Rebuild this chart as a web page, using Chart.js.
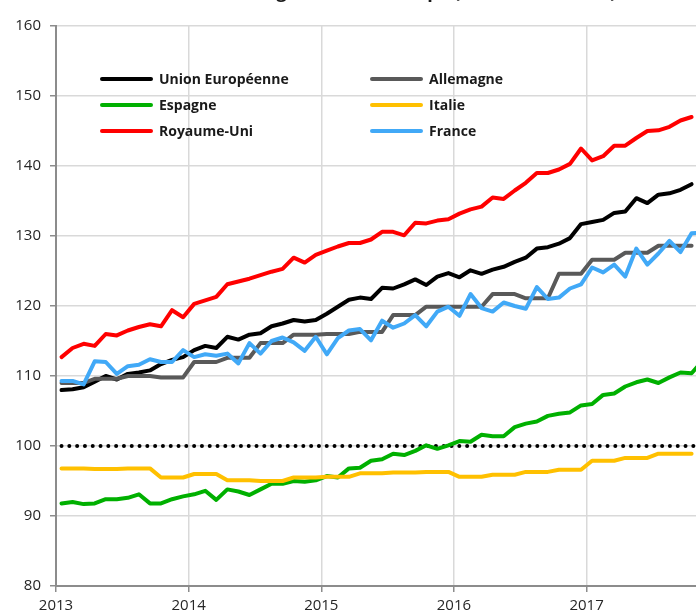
<!DOCTYPE html>
<html>
<head>
<meta charset="utf-8">
<title>Prix des logements</title>
<script src="https://cdn.jsdelivr.net/npm/chart.js@4/dist/chart.umd.min.js"></script>
<style>
    html, body { margin: 0; padding: 0; background: #fff; overflow: hidden; }
    #wrap { position: relative; width: 696px; height: 615px; }
    #titre {
        position: absolute; left: 56px; width: 640px; top: -21px;
        text-align: center; font: bold 18px "Open Sans", sans-serif; color: #1a1a1a;
        white-space: nowrap;
    }
    .leg { position: absolute; height: 20px; font: bold 14px "Open Sans", sans-serif; color: #1a1a1a; }
    .leg span.trait { position: absolute; left: 0; top: 8px; width: 53px; height: 4px; border-radius: 2px; }
    .leg span.nom { position: absolute; left: 59px; top: 0; line-height: 20px; white-space: nowrap; }
</style>
</head>
<body>
<div id="wrap">
    <canvas id="graphique" width="696" height="615"></canvas>
    <div id="titre">Prix réels des logements en Europe (base 100 en 2010)</div>
    <div id="legende"></div>
</div>
<script>
// mois (point placé au milieu du mois)
var mois = [
    '2013-01','2013-02','2013-03','2013-04','2013-05','2013-06','2013-07','2013-08','2013-09','2013-10','2013-11','2013-12',
    '2014-01','2014-02','2014-03','2014-04','2014-05','2014-06','2014-07','2014-08','2014-09','2014-10','2014-11','2014-12',
    '2015-01','2015-02','2015-03','2015-04','2015-05','2015-06','2015-07','2015-08','2015-09','2015-10','2015-11','2015-12',
    '2016-01','2016-02','2016-03','2016-04','2016-05','2016-06','2016-07','2016-08','2016-09','2016-10','2016-11','2016-12',
    '2017-01','2017-02','2017-03','2017-04','2017-05','2017-06','2017-07','2017-08','2017-09','2017-10','2017-11'
];

var unionEuropeenne = [108.0,108.1,108.4,109.2,110.0,109.5,110.3,110.5,110.8,111.7,112.3,112.7,
    113.7,114.3,114.0,115.6,115.2,115.9,116.1,117.1,117.5,118.0,117.8,118.0,
    118.9,119.9,120.9,121.2,121.0,122.6,122.5,123.1,123.8,123.0,124.2,124.7,
    124.1,125.1,124.6,125.2,125.6,126.3,126.9,128.2,128.4,128.9,129.7,131.7,
    132.0,132.3,133.3,133.5,135.4,134.7,135.9,136.1,136.6,137.4];

// trimestriel, répété sur les mois
var allemagne = [109.0,109.0,109.0,109.6,109.6,109.6,110.0,110.0,110.0,109.8,109.8,109.8,
    112.0,112.0,112.0,112.6,112.6,112.6,114.7,114.7,114.7,115.9,115.9,115.9,
    116.0,116.0,116.0,116.3,116.3,116.3,118.7,118.7,118.7,119.9,119.9,119.9,
    119.9,119.9,119.9,121.7,121.7,121.7,121.1,121.1,121.1,124.6,124.6,124.6,
    126.6,126.6,126.6,127.6,127.6,127.6,128.6,128.6,128.6,128.6];

var espagne = [91.8,92.0,91.7,91.8,92.4,92.4,92.6,93.1,91.8,91.8,92.4,92.8,
    93.1,93.6,92.3,93.8,93.5,93.0,93.8,94.6,94.6,95.0,94.9,95.1,
    95.7,95.5,96.8,96.9,97.9,98.1,98.9,98.7,99.3,100.1,99.6,100.1,
    100.7,100.6,101.6,101.4,101.4,102.7,103.2,103.5,104.3,104.6,104.8,105.8,
    106.0,107.3,107.5,108.5,109.1,109.5,109.0,109.8,110.5,110.4,112.2];

var italie = [96.8,96.8,96.8,96.7,96.7,96.7,96.8,96.8,96.8,95.5,95.5,95.5,
    96.0,96.0,96.0,95.1,95.1,95.1,95.0,95.0,95.0,95.5,95.5,95.5,
    95.6,95.6,95.6,96.1,96.1,96.1,96.2,96.2,96.2,96.3,96.3,96.3,
    95.6,95.6,95.6,95.9,95.9,95.9,96.3,96.3,96.3,96.6,96.6,96.6,
    97.9,97.9,97.9,98.3,98.3,98.3,98.9,98.9,98.9,98.9];

var royaumeUni = [112.7,114.0,114.6,114.3,116.0,115.8,116.5,117.0,117.4,117.1,119.4,118.4,
    120.3,120.8,121.3,123.1,123.5,123.9,124.4,124.9,125.3,126.9,126.2,127.3,
    127.9,128.5,129.0,129.0,129.5,130.6,130.6,130.1,131.9,131.8,132.2,132.4,
    133.2,133.8,134.2,135.5,135.3,136.5,137.6,139.0,139.0,139.5,140.3,142.5,
    140.8,141.4,142.9,142.9,144.0,145.0,145.1,145.6,146.5,147.0];

var france = [109.3,109.3,108.8,112.1,112.0,110.3,111.4,111.6,112.4,112.0,112.0,113.7,
    112.7,113.1,112.9,113.2,111.8,114.7,113.2,115.0,115.5,114.8,113.6,115.6,
    113.1,115.4,116.5,116.7,115.1,117.9,116.9,117.5,118.7,117.1,119.2,119.9,
    118.6,121.7,119.7,119.2,120.5,120.0,119.6,122.7,121.0,121.2,122.5,123.1,
    125.5,124.8,125.9,124.2,128.2,125.9,127.5,129.3,127.7,130.4,130.5];

var niveauBase = 100;
var anneesAxe = [2013, 2014, 2015, 2016, 2017];
var finAxe = 2017.825;

var series = [
    { nom: 'Union Européenne', valeurs: unionEuropeenne, couleur: '#000000' },
    { nom: 'Allemagne', valeurs: allemagne, couleur: '#595959' },
    { nom: 'Espagne', valeurs: espagne, couleur: '#00b000' },
    { nom: 'Italie', valeurs: italie, couleur: '#ffc000' },
    { nom: 'Royaume-Uni', valeurs: royaumeUni, couleur: '#ff0000' },
    { nom: 'France', valeurs: france, couleur: '#41a9f7' }
];

function versAnnee(m) {
    var p = m.split('-');
    return parseInt(p[0], 10) + (parseInt(p[1], 10) - 0.5) / 12;
}

function points(valeurs) {
    return valeurs.map(function (v, i) {
        return { x: versAnnee(mois[i]), y: v };
    });
}

var datasets = series.map(function (s, i) {
    return {
        label: s.nom,
        data: points(s.valeurs),
        borderColor: s.couleur,
        backgroundColor: s.couleur,
        borderWidth: 4,
        pointRadius: 0,
        tension: 0,
        borderJoinStyle: 'round',
        borderCapStyle: 'round',
        order: series.length - i
    };
});

// ligne pointillée à 100
datasets.push({
    label: 'base',
    data: [{ x: versAnnee(mois[0]), y: niveauBase }, { x: finAxe, y: niveauBase }],
    borderColor: '#000000',
    borderWidth: 4,
    borderDash: [0, 7.8],
    borderCapStyle: 'round',
    pointRadius: 0,
    order: 10
});

var ctx = document.getElementById('graphique').getContext('2d');
var graphique = new Chart(ctx, {
    type: 'line',
    data: { datasets: datasets },
    options: {
        responsive: false,
        animation: false,
        events: [],
        layout: { padding: { top: 26, right: 0, bottom: 0, left: 0 } },
        plugins: { legend: { display: false }, tooltip: { enabled: false } },
        scales: {
            x: {
                type: 'linear',
                min: anneesAxe[0],
                max: finAxe,
                afterBuildTicks: function (axis) {
                    axis.ticks = anneesAxe.map(function (a) { return { value: a }; });
                },
                afterFit: function (axis) { axis.height = 29; },
                grid: { color: '#d9d9d9', lineWidth: 1.5, tickColor: '#8c8c8c', tickLength: 6 },
                border: { color: '#8c8c8c', width: 2 },
                ticks: {
                    color: '#262626',
                    padding: 5,
                    maxRotation: 0,
                    font: { family: 'Open Sans', size: 15 },
                    callback: function (v) { return String(v); }
                }
            },
            y: {
                min: 80,
                max: 160,
                afterFit: function (axis) { axis.width = 56; },
                grid: { color: '#d9d9d9', lineWidth: 1.5, tickColor: '#8c8c8c', tickLength: 6 },
                border: { color: '#8c8c8c', width: 2 },
                ticks: {
                    stepSize: 10,
                    color: '#262626',
                    padding: 9,
                    font: { family: 'Open Sans', size: 15 }
                }
            }
        }
    }
});

// légende sur deux colonnes dans le graphique
var legX = [100, 370];
var legY = [69, 95, 121];
var legende = document.getElementById('legende');
series.forEach(function (s, i) {
    var d = document.createElement('div');
    d.className = 'leg';
    d.style.left = legX[i % 2] + 'px';
    d.style.top = legY[Math.floor(i / 2)] + 'px';
    d.innerHTML = '<span class="trait" style="background:' + s.couleur + '"></span><span class="nom"></span>';
    d.querySelector('.nom').textContent = s.nom;
    legende.appendChild(d);
});
</script>
</body>
</html>
